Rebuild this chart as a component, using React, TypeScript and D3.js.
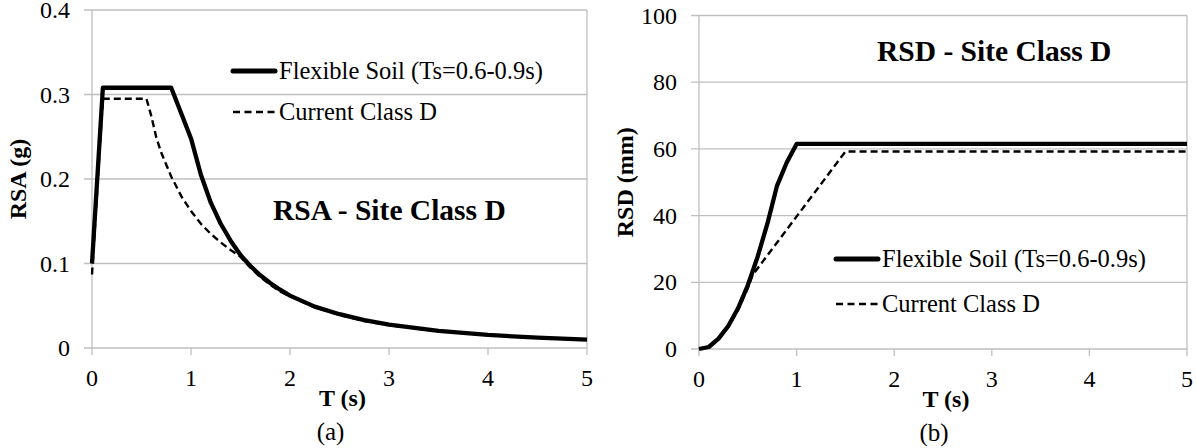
import React from "react";
import * as d3 from "d3";

// ---------- DATA ----------
// (a) RSA - Site Class D
const rsaFlexT = [0, 0.11, 0.8, 0.9, 1.0, 1.1, 1.2, 1.3, 1.4, 1.5, 1.6, 1.7, 1.8, 1.9, 2.0, 2.25, 2.5, 2.75, 3.0, 3.5, 4.0, 4.5, 5.0];
const rsaFlexV = [0.1, 0.308, 0.308, 0.278, 0.248, 0.205, 0.172, 0.147, 0.127, 0.110, 0.097, 0.086, 0.077, 0.069, 0.062, 0.049, 0.040, 0.033, 0.0276, 0.0203, 0.0155, 0.0122, 0.0099];
const rsaCurT = [0, 0.11, 0.55, 0.6, 0.65, 0.7, 0.8, 0.9, 1.0, 1.1, 1.2, 1.3, 1.4, 1.5, 1.6, 1.7, 1.8, 1.9, 2.0, 2.25, 2.5, 2.75, 3.0, 3.5, 4.0, 4.5, 5.0];
const rsaCurV = [0.087, 0.295, 0.295, 0.274, 0.249, 0.231, 0.203, 0.180, 0.162, 0.147, 0.135, 0.125, 0.116, 0.108, 0.095, 0.084, 0.075, 0.067, 0.061, 0.048, 0.039, 0.032, 0.027, 0.0198, 0.0152, 0.012, 0.0097];
const rsaYTicks = [0, 0.1, 0.2, 0.3, 0.4];
const rsaYLabels = ["0", "0.1", "0.2", "0.3", "0.4"];

// (b) RSD - Site Class D
const rsdFlexT = [0, 0.1, 0.2, 0.3, 0.4, 0.5, 0.6, 0.7, 0.8, 0.9, 1.0, 1.5, 2, 3, 4, 5];
const rsdFlexV = [0, 0.6, 3.1, 6.9, 12.2, 19.1, 27.6, 37.5, 49.0, 56.0, 61.5, 61.5, 61.5, 61.5, 61.5, 61.5];
const rsdCurT = [0, 0.11, 0.2, 0.3, 0.4, 0.5, 0.55, 1.5, 2, 3, 4, 5];
const rsdCurV = [0, 0.9, 2.9, 6.6, 11.7, 18.3, 22.2, 59.2, 59.2, 59.2, 59.2, 59.2];
const rsdYTicks = [0, 20, 40, 60, 80, 100];

const xTicks = [0, 1, 2, 3, 4, 5];
const seriesNames = ["Flexible Soil (Ts=0.6-0.9s)", "Current Class D"];

const FONT = "\"Liberation Serif\", Tinos, \"Times New Roman\", \"DejaVu Serif\", serif";
const GRID = "#bfbfbf";

type PanelProps = {
  left: number; right: number; top: number; bottom: number;
  yMax: number; yTicks: number[]; yLabels: string[];
  flexT: number[]; flexV: number[]; curT: number[]; curV: number[];
  yTitle: string; yTitleX: number; title: string; titleX: number; titleY: number;
  legX: number; legY: number; legGap: number; label: string;
  tickFont: number;
};

function Panel(p: PanelProps) {
  const x = d3.scaleLinear().domain([0, 5]).range([p.left, p.right]);
  const y = d3.scaleLinear().domain([0, p.yMax]).range([p.bottom, p.top]);
  const line = d3.line<[number, number]>().x(d => x(d[0])).y(d => y(d[1]));
  const flex = line(p.flexT.map((t, i) => [t, p.flexV[i]] as [number, number])) || "";
  const cur = line(p.curT.map((t, i) => [t, p.curV[i]] as [number, number])) || "";
  const cx = (p.left + p.right) / 2;
  return (
    <g style={{ fontFamily: FONT }} fill="#000">
      {p.yTicks.map((t, i) => (
        <g key={"gy" + i}>
          <line x1={p.left - 8} x2={p.right} y1={y(t)} y2={y(t)} stroke={GRID} strokeWidth={1.3} />
          <text x={p.left - 22} y={y(t)} dy="0.34em" textAnchor="end" fontSize={p.tickFont}>{p.yLabels[i]}</text>
        </g>
      ))}
      <line x1={p.left} x2={p.left} y1={p.top} y2={p.bottom} stroke={GRID} strokeWidth={1.3} />
      <line x1={p.right} x2={p.right} y1={p.top} y2={p.bottom} stroke={GRID} strokeWidth={1.3} />
      {xTicks.map(t => (
        <g key={"gx" + t}>
          <line x1={x(t)} x2={x(t)} y1={p.bottom} y2={p.bottom + 7} stroke={GRID} strokeWidth={1.3} />
          <text x={x(t)} y={p.bottom + 38} textAnchor="middle" fontSize={p.tickFont}>{t}</text>
        </g>
      ))}
      <path d={cur} fill="none" stroke="#000" strokeWidth={2.4} strokeDasharray="7,4" />
      <path d={flex} fill="none" stroke="#000" strokeWidth={4.3} strokeLinejoin="round" />
      <text x={cx + 3} y={p.bottom + 58} textAnchor="middle" fontSize={24} fontWeight="bold">T (s)</text>
      <text x={cx - 9} y={p.bottom + 92} textAnchor="middle" fontSize={25}>{p.label}</text>
      <text transform={`translate(${p.yTitleX},${(p.top + p.bottom) / 2}) rotate(-90)`} textAnchor="middle" dy="0.35em" fontSize={24} fontWeight="bold">{p.yTitle}</text>
      <text x={p.titleX} y={p.titleY} fontSize={29.5} fontWeight="bold">{p.title}</text>
      <line x1={p.legX} x2={p.legX + 42} y1={p.legY} y2={p.legY} stroke="#000" strokeWidth={5} strokeLinecap="round" />
      <text x={p.legX + 46} y={p.legY} dy="0.34em" fontSize={24.5}>{seriesNames[0]}</text>
      <line x1={p.legX} x2={p.legX + 42} y1={p.legY + p.legGap} y2={p.legY + p.legGap} stroke="#000" strokeWidth={2.4} strokeDasharray="7,4.5" />
      <text x={p.legX + 46} y={p.legY + p.legGap} dy="0.34em" fontSize={24.5}>{seriesNames[1]}</text>
    </g>
  );
}

export default function App() {
  return (
    <svg width={1197} height={448} style={{ position: "absolute", left: 0, top: 0, background: "#fff" }}>
      <rect width={1197} height={448} fill="#fff" />
      <Panel left={92} right={587} top={10} bottom={348} yMax={0.4} yTicks={rsaYTicks} yLabels={rsaYLabels}
        flexT={rsaFlexT} flexV={rsaFlexV} curT={rsaCurT} curV={rsaCurV}
        yTitle="RSA (g)" yTitleX={18} title="RSA - Site Class D" titleX={273} titleY={219.5}
        legX={233} legY={71} legGap={41} label="(a)" tickFont={24} />
      <Panel left={699} right={1187} top={15.5} bottom={349} yMax={100} yTicks={rsdYTicks} yLabels={rsdYTicks.map(String)}
        flexT={rsdFlexT} flexV={rsdFlexV} curT={rsdCurT} curV={rsdCurV}
        yTitle="RSD (mm)" yTitleX={625} title="RSD - Site Class D" titleX={877} titleY={61}
        legX={836} legY={259} legGap={45} label="(b)" tickFont={24} />
    </svg>
  );
}
